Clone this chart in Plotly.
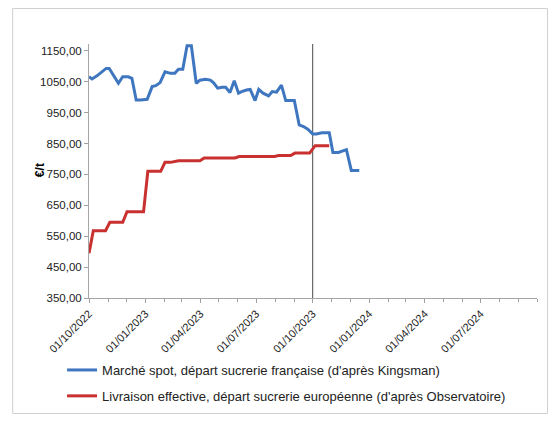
import plotly.graph_objects as go

# ---- data ----
spot_dates = ["2022-10-01", "2022-10-06", "2022-10-14", "2022-10-21", "2022-10-29", "2022-11-03",
              "2022-11-18", "2022-11-25", "2022-12-04", "2022-12-10", "2022-12-17", "2022-12-24",
              "2023-01-04", "2023-01-12", "2023-01-18", "2023-01-25", "2023-02-02", "2023-02-11",
              "2023-02-18", "2023-02-24", "2023-03-03", "2023-03-10", "2023-03-17", "2023-03-25",
              "2023-03-31", "2023-04-09", "2023-04-17", "2023-04-22", "2023-04-29", "2023-05-06",
              "2023-05-12", "2023-05-19", "2023-05-26", "2023-06-02", "2023-06-07", "2023-06-15",
              "2023-06-21", "2023-06-29", "2023-07-05", "2023-07-12", "2023-07-21", "2023-07-27",
              "2023-08-03", "2023-08-11", "2023-08-18", "2023-08-25", "2023-09-01", "2023-09-09",
              "2023-09-16", "2023-09-23", "2023-10-01", "2023-10-07", "2023-10-16", "2023-10-28",
              "2023-11-03", "2023-11-12", "2023-11-25", "2023-12-03", "2023-12-16"]
spot_values = [1066, 1059, 1069, 1080, 1093, 1093,
               1045, 1066, 1066, 1061, 991, 991,
               993, 1034, 1037, 1047, 1082, 1077,
               1077, 1090, 1090, 1166, 1166, 1045,
               1055, 1058, 1055, 1047, 1029, 1032,
               1032, 1015, 1053, 1013, 1018, 1023,
               1025, 989, 1025, 1013, 1004, 1018,
               1016, 1039, 989, 989, 989, 910,
               905, 896, 881, 881, 885, 885,
               821, 821, 830, 763, 763]

eff_dates = ["2022-10-01", "2022-10-08", "2022-10-28", "2022-11-04", "2022-11-25", "2022-12-02",
             "2022-12-29", "2023-01-05", "2023-01-26", "2023-02-02", "2023-02-11", "2023-02-24",
             "2023-03-31", "2023-04-07", "2023-05-27", "2023-06-03", "2023-07-31", "2023-08-06",
             "2023-08-26", "2023-09-02", "2023-09-26", "2023-10-05", "2023-10-28"]
eff_values = [495, 568, 568, 595, 595, 629,
              629, 760, 760, 789, 789, 794,
              794, 803, 803, 808, 808, 811,
              811, 819, 819, 843, 843]

series_names = ["Marché spot, départ sucrerie française (d'après Kingsman)",
                "Livraison effective, départ sucrerie européenne (d'après Observatoire)"]

y_ticks = [350, 450, 550, 650, 750, 850, 950, 1050, 1150]
y_tick_labels = ["350,00", "450,00", "550,00", "650,00", "750,00", "850,00", "950,00", "1050,00", "1150,00"]
x_ticks = ["2022-10-01", "2023-01-01", "2023-04-01", "2023-07-01", "2023-10-01",
           "2024-01-01", "2024-04-01", "2024-07-01"]
x_tick_labels = ["01/10/2022", "01/01/2023", "01/04/2023", "01/07/2023", "01/10/2023",
                 "01/01/2024", "01/04/2024", "01/07/2024"]
marker_date = "2023-10-01"
y_title = "€/t"

BLUE = "#3f76c0"
RED = "#c8312f"
FONT = "Liberation Sans"

# page body has an 8px margin: figure coords = screen coords - 8
fig = go.Figure()
fig.add_trace(go.Scatter(x=spot_dates, y=spot_values, mode="lines", name=series_names[0],
                         legendgroup="a", line=dict(color=BLUE, width=3)))
fig.add_trace(go.Scatter(x=eff_dates, y=eff_values, mode="lines", name=series_names[1],
                         legendgroup="b", line=dict(color=RED, width=3)))

# vertical reference line
fig.add_shape(type="line", xref="x", yref="paper", x0=marker_date, x1=marker_date, y0=0, y1=1,
              line=dict(color="#4a4a4a", width=1), layer="below")

# outer frame
fig.add_shape(type="rect", xref="paper", yref="paper",
              x0=(12.5 - 89) / 449, x1=(548.5 - 89) / 449,
              y0=-(413.5 - 298) / 254, y1=1 + (44 - 8.5) / 254,
              line=dict(color="#d0d0d0", width=1), fillcolor="rgba(0,0,0,0)", layer="below")

fig.add_annotation(text="<b>" + y_title + "</b>", xref="paper", yref="paper",
                   x=(31 - 89) / 449, y=(298 - 170) / 254, textangle=-90, showarrow=False,
                   font=dict(family=FONT, size=12, color="#000000"))

fig.update_layout(
    width=552, height=414,
    margin=dict(l=81, r=22.5, t=36, b=124, autoexpand=False),
    paper_bgcolor="white", plot_bgcolor="white",
    font=dict(family=FONT, size=11, color="#222222"),
    showlegend=True,
    legend=dict(x=(62 - 89) / 449, y=(298 - 355) / 254, xanchor="left", yanchor="top",
                orientation="v", tracegroupgap=6, bgcolor="rgba(0,0,0,0)",
                font=dict(family=FONT, size=13, color="#222222")),
    xaxis=dict(type="date", range=["2022-10-01", "2024-10-01"], automargin=False,
               tickmode="array", tickvals=x_ticks, ticktext=x_tick_labels, tickangle=-45,
               ticks="outside", ticklen=4, tickcolor="#a0a0a0",
               minor=dict(ticks="outside", ticklen=3, tickcolor="#a0a0a0", dtick="M1",
                          tick0="2022-10-01", showgrid=False),
               showline=True, linecolor="#a6a6a6", linewidth=1, showgrid=False, zeroline=False,
               tickfont=dict(family=FONT, size=11, color="#222222")),
    yaxis=dict(range=[350, 1172], tickmode="array", tickvals=y_ticks, ticktext=y_tick_labels,
               automargin=False,
               ticks="outside", ticklen=4, tickcolor="#a0a0a0",
               showline=True, linecolor="#a6a6a6", linewidth=1, showgrid=False, zeroline=False,
               tickfont=dict(family=FONT, size=11.5, color="#222222")),
)

fig.write_html("out.html")
